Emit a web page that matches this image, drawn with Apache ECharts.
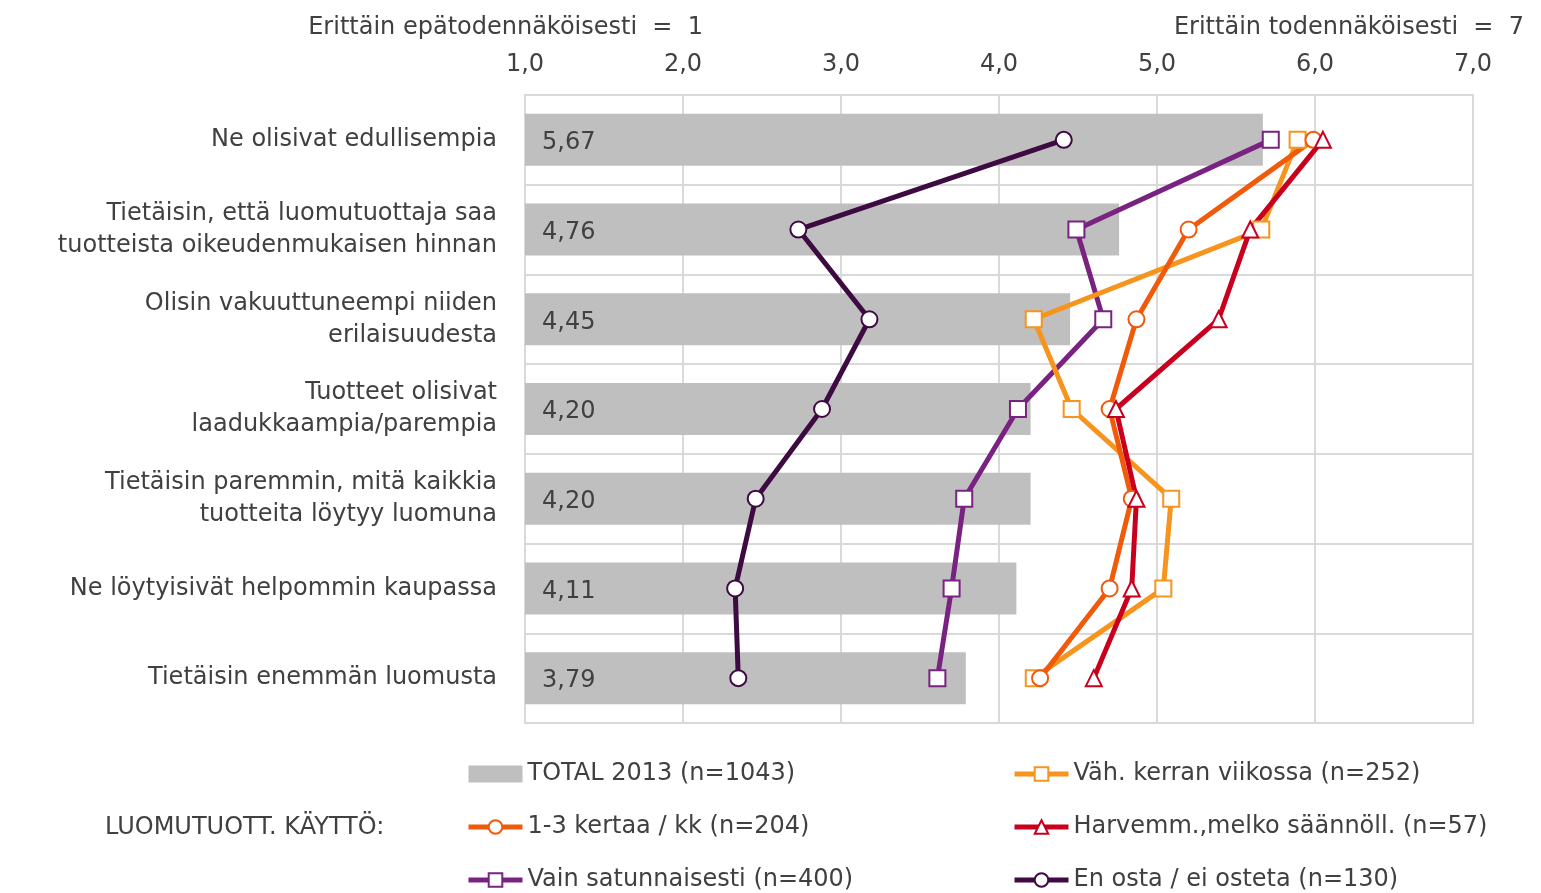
<!DOCTYPE html>
<html><head><meta charset="utf-8">
<script src="https://cdn.jsdelivr.net/npm/echarts@6/dist/echarts.min.js"></script>
<style>html,body{margin:0;padding:0;background:#fff}#c{width:1541px;height:893px}</style>
</head><body><div id="c"></div>
<script>
const categories = [
  "Ne olisivat edullisempia",
  "Tietäisin, että luomutuottaja saa\ntuotteista oikeudenmukaisen hinnan",
  "Olisin vakuuttuneempi niiden\nerilaisuudesta",
  "Tuotteet olisivat\nlaadukkaampia/parempia",
  "Tietäisin paremmin, mitä kaikkia\ntuotteita löytyy luomuna",
  "Ne löytyisivät helpommin kaupassa",
  "Tietäisin enemmän luomusta"
];
const total2013 = [5.67, 4.76, 4.45, 4.20, 4.20, 4.11, 3.79];
const enOsta = [4.41, 2.73, 3.18, 2.88, 2.46, 2.33, 2.35];
const vainSatunnaisesti = [5.72, 4.49, 4.66, 4.12, 3.78, 3.70, 3.61];
const vahKerranViikossa = [5.89, 5.66, 4.22, 4.46, 5.09, 5.04, 4.22];
const kertaaKk = [5.99, 5.20, 4.87, 4.70, 4.84, 4.70, 4.26];
const harvemm = [6.05, 5.59, 5.39, 4.74, 4.87, 4.84, 4.60];
const tickLabels = ["1,0","2,0","3,0","4,0","5,0","6,0","7,0"];

const FONT = "DejaVu Sans";
const FS = 24;
const TXT = "#404040";
const chart = echarts.init(document.getElementById('c'));
function lineSeries(name, data, color, symbol) {
  return {
    name, type: 'line', data, symbol, symbolSize: 16,
    lineStyle: {color, width: 5}, clip: false,
    itemStyle: {color: '#fff', borderColor: color, borderWidth: 2},
    emphasis: {disabled: true}, z: 3
  };
}
const legText = {fontFamily: FONT, fontSize: FS, color: TXT};
const legCommon = {top: 762, orient: 'vertical', itemGap: 29, itemWidth: 54, itemHeight: 17,
  textStyle: legText, padding: 0, lineStyle: {width: 5}};
chart.setOption({
  animation: false,
  textStyle: {fontFamily: FONT},
  grid: {left: 525, right: 68, top: 95, bottom: 170, show: true, borderColor: '#d9d9d9', borderWidth: 2},
  xAxis: {
    type: 'value', position: 'top', min: 1, max: 7, interval: 1,
    axisLine: {show: false}, axisTick: {show: false},
    splitLine: {lineStyle: {color: '#d9d9d9', width: 2}},
    axisLabel: {fontFamily: FONT, fontSize: FS, color: TXT, margin: 18,
      formatter: v => tickLabels[Math.round(v) - 1]}
  },
  yAxis: {
    type: 'category', data: categories, inverse: true,
    axisLine: {show: false}, axisTick: {show: false},
    splitLine: {show: true, lineStyle: {color: '#d9d9d9', width: 2}},
    axisLabel: {fontFamily: FONT, fontSize: FS, color: TXT, margin: 28, lineHeight: 32, align: 'right',
      padding: [6, 0, 0, 0]}
  },
  legend: [
    Object.assign({left: 466,
     data: [{name: 'TOTAL 2013 (n=1043)', icon: 'rect'}, '1-3 kertaa / kk (n=204)', 'Vain satunnaisesti (n=400)']}, legCommon),
    Object.assign({left: 1012,
     data: ['Väh. kerran viikossa (n=252)', 'Harvemm.,melko säännöll. (n=57)', 'En osta / ei osteta (n=130)']}, legCommon)
  ],
  graphic: [
    {type: 'text', right: 1541 - 703, top: 16, style: {text: 'Erittäin epätodennäköisesti  =  1', font: FS + 'px "DejaVu Sans"', fill: TXT}},
    {type: 'text', right: 1541 - 1524, top: 16, style: {text: 'Erittäin todennäköisesti  =  7', font: FS + 'px "DejaVu Sans"', fill: TXT}},
    {type: 'text', left: 105, top: 816, style: {text: 'LUOMUTUOTT. KÄYTTÖ:', font: FS + 'px "DejaVu Sans"', fill: TXT}}
  ],
  series: [
    {name: 'TOTAL 2013 (n=1043)', type: 'bar', data: total2013, barWidth: 52,
     itemStyle: {color: '#bfbfbf'}, emphasis: {disabled: true}, z: 2,
     label: {show: true, position: 'insideLeft', distance: 17, offset: [0, 3],
       fontFamily: FONT, fontSize: FS, color: TXT,
       formatter: p => p.value.toFixed(2).replace('.', ',')}},
    lineSeries('En osta / ei osteta (n=130)', enOsta, '#3d0a41', 'circle'),
    lineSeries('Vain satunnaisesti (n=400)', vainSatunnaisesti, '#7a2282', 'rect'),
    lineSeries('Väh. kerran viikossa (n=252)', vahKerranViikossa, '#f7941e', 'rect'),
    lineSeries('1-3 kertaa / kk (n=204)', kertaaKk, '#f05a0a', 'circle'),
    lineSeries('Harvemm.,melko säännöll. (n=57)', harvemm, '#c8001e', 'triangle')
  ]
});
</script></body></html>
